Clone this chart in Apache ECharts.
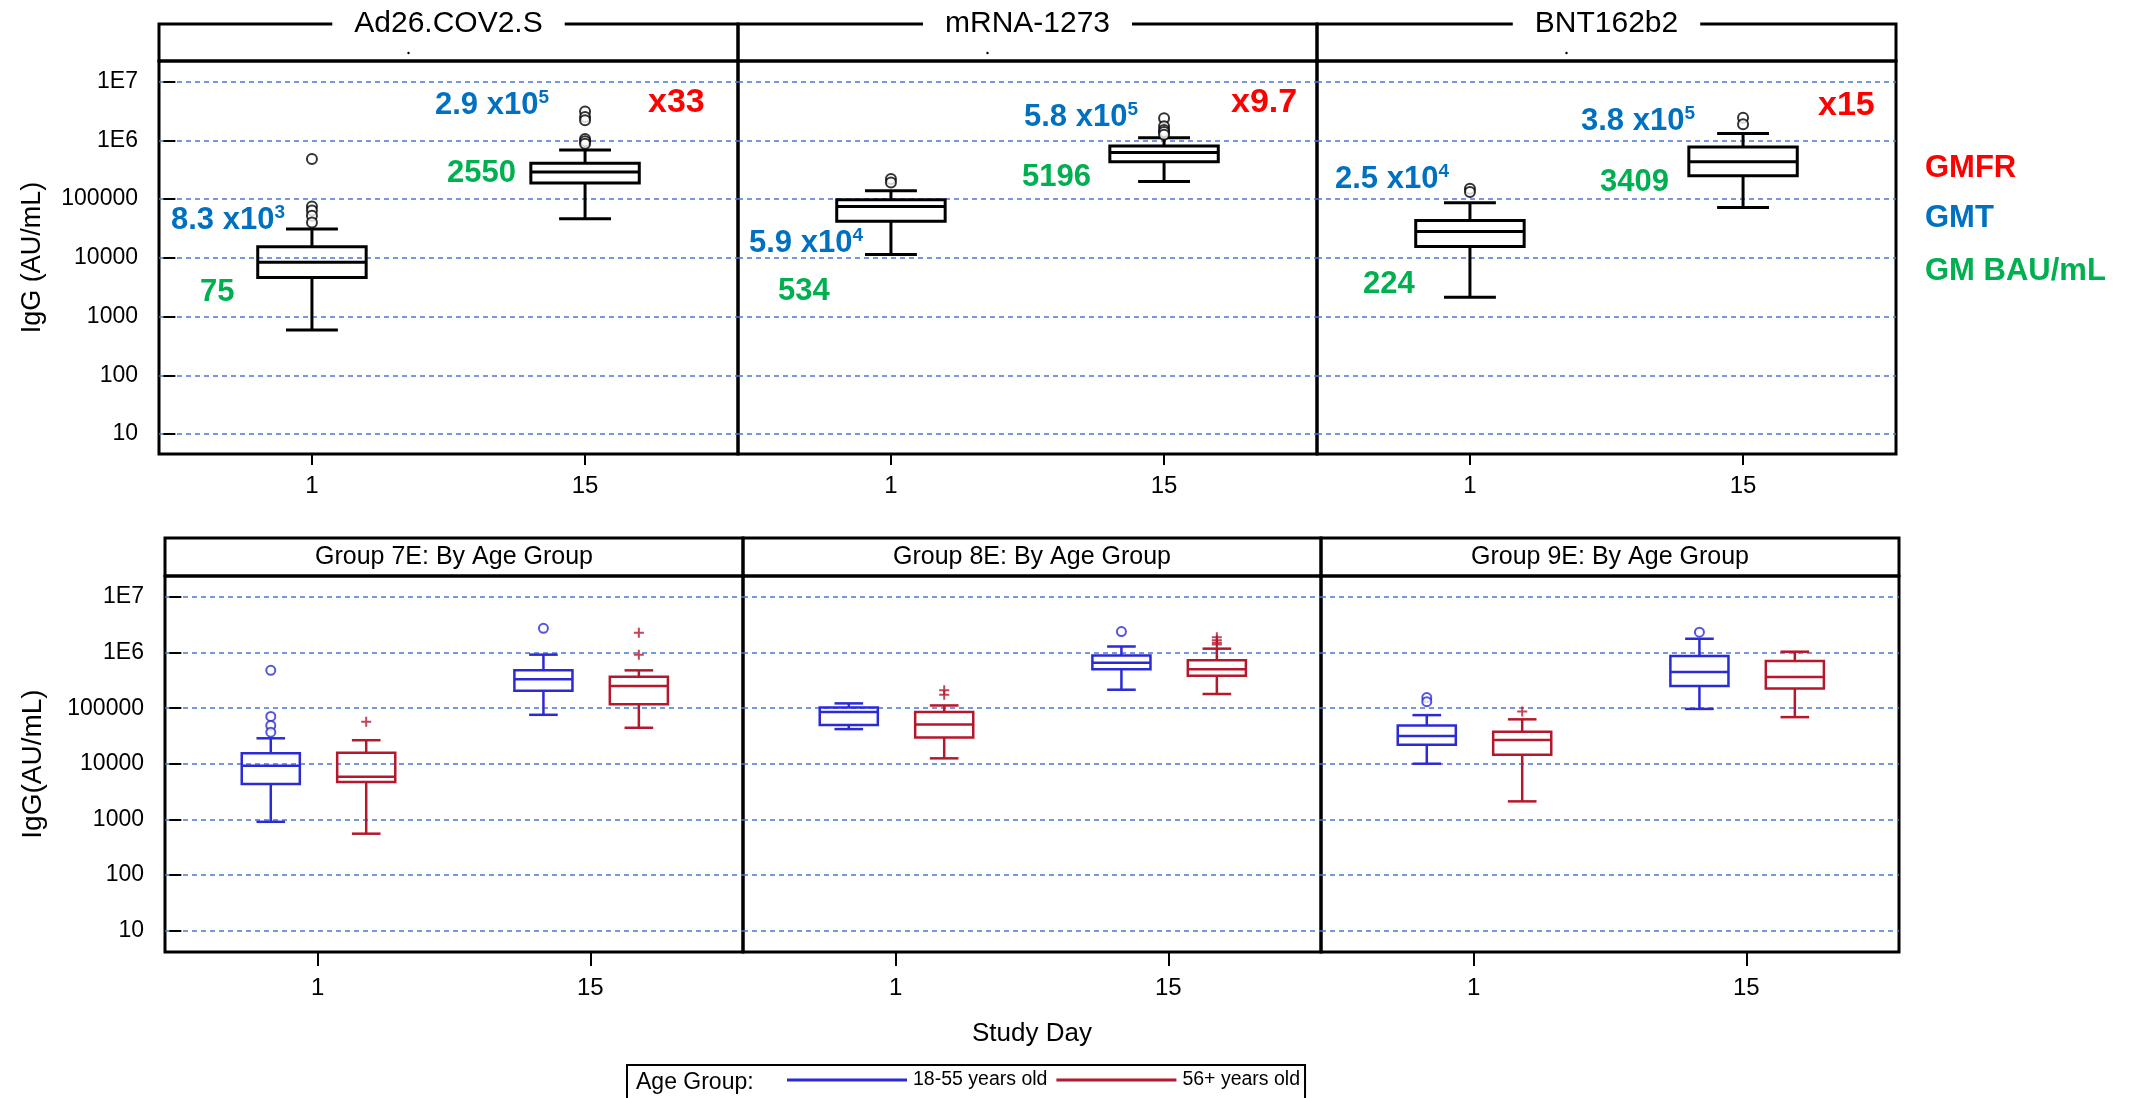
<!DOCTYPE html>
<html><head><meta charset="utf-8">
<script src="https://cdn.jsdelivr.net/npm/echarts@6/dist/echarts.min.js"></script>
<style>html,body{margin:0;padding:0;background:#fff}#c{width:2141px;height:1098px}</style>
</head><body><div id="c"></div>
<script>
// ---------------- data ----------------
const dayLabels = ['1', '15'];
const yTickValues = [10, 100, 1000, 10000, 100000, 1e6, 1e7];
const yTickLabels = ['10', '100', '1000', '10000', '100000', '1E6', '1E7'];
const vaccineNames = ['Ad26.COV2.S', 'mRNA-1273', 'BNT162b2'];
const groupTitles = ['Group 7E: By Age Group', 'Group 8E: By Age Group', 'Group 9E: By Age Group'];
const ageGroups = ['18-55 years old', '56+ years old'];

// box stats per study day: [lower whisker, Q1, median, Q3, upper whisker]
const ad26Boxes = [[590, 4600, 8400, 15400, 30800], [46000, 187000, 288000, 406000, 684000]];
const ad26Outliers = [[480000, 75000, 64000, 52000, 40000], [3080000, 2500000, 2200000, 1050000, 960000, 870000]];
const mrnaBoxes = [[11400, 41700, 75000, 97000, 139000], [198000, 432000, 617000, 800000, 1100000]];
const mrnaOutliers = [[219000, 192000], [2370000, 1730000, 1500000, 1390000, 1240000]];
const bntBoxes = [[2140, 15600, 28100, 43300, 86600], [72000, 250000, 432000, 770000, 1300000]];
const bntOutliers = [[150000, 132000], [2430000, 1870000]];

// by age group: [18-55, 56+], each per study day
const g7Young = [[900, 4300, 9200, 15500, 28700], [76000, 205000, 332000, 480000, 920000]];
const g7YoungOut = [[480000, 71000, 49000, 37000], [2740000]];
const g7Old = [[550, 4700, 5800, 15700, 26500], [44400, 118000, 251000, 367000, 480000]];
const g7OldOut = [[57000], [2290000, 920000]];
const g8Young = [[42000, 49800, 85000, 103000, 122000], [215000, 500000, 660000, 890000, 1290000]];
const g8YoungOut = [[], [2400000]];
const g8Old = [[12500, 29800, 51000, 85000, 112000], [180000, 383000, 500000, 733000, 1180000]];
const g8OldOut = [[210000, 175000], [1900000, 1670000, 1500000, 1400000]];
const g9Young = [[10000, 22000, 31400, 49000, 75000], [97000, 250000, 450000, 870000, 1780000]];
const g9YoungOut = [[155000, 131000], [2340000]];
const g9Old = [[2100, 14500, 26800, 37800, 63000], [69000, 226000, 363000, 710000, 1040000]];
const g9OldOut = [[87000], []];

// annotation texts
const gmtMantissa = [['8.3', '2.9'], ['5.9', '5.8'], ['2.5', '3.8']];
const gmtExponent = [['3', '5'], ['4', '5'], ['4', '5']];
const gmBau = [['75', '2550'], ['534', '5196'], ['224', '3409']];
const gmfr = ['x33', 'x9.7', 'x15'];
const keyLabels = ['GMFR', 'GMT', 'GM BAU/mL'];

// ---------------- layout ----------------
const FF = "'Liberation Sans', Arial, sans-serif";
const BLUE = '#2b2bd6', RED = '#b5172c', GRIDC = '#4a78d4';
const C_BLUE = '#0070c0', C_GREEN = '#00b050', C_RED = '#ff0000';
const topLefts = [159, 738, 1317], topW = 579, topTop = 61, topH = 393;
const botLefts = [165, 743, 1321], botW = 578, botTop = 576, botH = 376;
const topBoxes = [ad26Boxes, mrnaBoxes, bntBoxes];
const topOut = [ad26Outliers, mrnaOutliers, bntOutliers];
const botBoxes = [[g7Young, g7Old], [g8Young, g8Old], [g9Young, g9Old]];
const botOut = [[g7YoungOut, g7OldOut], [g8YoungOut, g8OldOut], [g9YoungOut, g9OldOut]];
const ageOffset = [-0.172, 0.178];
const ageColor = [BLUE, RED];

const grids = [], xAxes = [], yAxes = [], series = [];
function addPanel(idx, left, top, w, h, yMin, yMax, showY, tickLen, labMargin) {
  grids.push({left: left, top: top, width: w, height: h, show: true, borderColor: '#000', borderWidth: 3, backgroundColor: 'transparent'});
  xAxes.push({
    type: 'value', gridIndex: idx, min: -0.06, max: 2.06,
    axisLine: {show: false}, splitLine: {show: false},
    axisTick: {show: true, customValues: [0.5, 1.5], length: tickLen, lineStyle: {color: '#000', width: 2}},
    axisLabel: {customValues: [0.5, 1.5], formatter: v => dayLabels[Math.round(v - 0.5)], fontSize: 24, fontFamily: FF, color: '#000', margin: labMargin}
  });
  yAxes.push({
    type: 'log', logBase: 10, gridIndex: idx, min: yMin, max: yMax,
    axisLine: {show: false},
    axisTick: {show: showY, customValues: yTickValues, length: 12, lineStyle: {color: '#000', width: 2}},
    axisLabel: {show: showY, customValues: yTickValues,
      formatter: v => yTickLabels[Math.round(Math.log10(v)) - 1], fontSize: 23, fontFamily: FF, color: '#000', margin: 21},
    splitLine: {show: true, lineStyle: {color: GRIDC, width: 1.5, type: [5, 4]}}
  });
}
for (let p = 0; p < 3; p++) addPanel(p, topLefts[p], topTop, topW, topH, Math.pow(10, 0.66), Math.pow(10, 7.35), p === 0, 11, 20);
for (let p = 0; p < 3; p++) addPanel(3 + p, botLefts[p], botTop, botW, botH, Math.pow(10, 0.61), Math.pow(10, 7.38), p === 0, 14, 24);

function boxRender(boxW, capW, color, lw) {
  return function (params, api) {
    const x = api.value(0);
    const lo = api.coord([x, api.value(1)]), q1 = api.coord([x, api.value(2)]), md = api.coord([x, api.value(3)]),
          q3 = api.coord([x, api.value(4)]), hi = api.coord([x, api.value(5)]);
    const xl = api.coord([x - boxW / 2, api.value(2)])[0], xr = api.coord([x + boxW / 2, api.value(2)])[0];
    const cl = api.coord([x - capW / 2, api.value(2)])[0], cr = api.coord([x + capW / 2, api.value(2)])[0];
    const st = {stroke: color, lineWidth: lw, fill: null};
    return {type: 'group', children: [
      {type: 'line', shape: {x1: lo[0], y1: lo[1], x2: q1[0], y2: q1[1]}, style: st},
      {type: 'line', shape: {x1: q3[0], y1: q3[1], x2: hi[0], y2: hi[1]}, style: st},
      {type: 'line', shape: {x1: cl, y1: lo[1], x2: cr, y2: lo[1]}, style: st},
      {type: 'line', shape: {x1: cl, y1: hi[1], x2: cr, y2: hi[1]}, style: st},
      {type: 'rect', shape: {x: xl, y: q3[1], width: xr - xl, height: q1[1] - q3[1]}, style: st},
      {type: 'line', shape: {x1: xl, y1: md[1], x2: xr, y2: md[1]}, style: st}
    ]};
  };
}
const PLUS = 'path://M4,0H6V4H10V6H6V10H4V6H0V4H4Z';

for (let p = 0; p < 3; p++) {
  series.push({
    type: 'custom', name: vaccineNames[p], xAxisIndex: p, yAxisIndex: p,
    encode: {x: 0, y: [1, 2, 3, 4, 5]}, itemStyle: {color: '#000'},
    data: topBoxes[p].map((b, d) => [0.5 + d].concat(b)),
    renderItem: boxRender(0.397, 0.19, '#000', 3), z: 3
  });
  const pts = [];
  topOut[p].forEach((arr, d) => arr.forEach(v => pts.push([0.5 + d, v])));
  series.push({type: 'scatter', xAxisIndex: p, yAxisIndex: p, symbol: 'emptyCircle', symbolSize: 10,
    itemStyle: {color: '#000', borderWidth: 2}, data: pts, z: 4});
}
for (let p = 0; p < 3; p++) {
  for (let a = 0; a < 2; a++) {
    series.push({
      type: 'custom', name: ageGroups[a], xAxisIndex: 3 + p, yAxisIndex: 3 + p,
      encode: {x: 0, y: [1, 2, 3, 4, 5]}, itemStyle: {color: ageColor[a]},
      data: botBoxes[p][a].map((b, d) => [0.5 + d + ageOffset[a]].concat(b)),
      renderItem: boxRender(0.213, 0.105, ageColor[a], 2.5), z: 3
    });
    const pts = [];
    botOut[p][a].forEach((arr, d) => arr.forEach(v => pts.push([0.5 + d + ageOffset[a], v])));
    series.push({type: 'scatter', xAxisIndex: 3 + p, yAxisIndex: 3 + p,
      symbol: a === 0 ? 'emptyCircle' : PLUS, symbolSize: a === 0 ? 9 : 10,
      itemStyle: a === 0 ? {color: BLUE, borderWidth: 2} : {color: RED, borderWidth: 0}, data: pts, z: 4});
  }
}

// ---------------- graphics (frames, titles, annotations) ----------------
const graphics = [];
function txt(x, y, text, size, color, opts) {
  opts = opts || {};
  return {
    type: 'text', x: x, y: y, z: opts.z || 20, rotation: opts.rotation || 0,
    style: Object.assign({text: text, fill: color, fontSize: size, fontFamily: FF, fontWeight: opts.bold ? 'bold' : 'normal',
      align: opts.align || 'left', verticalAlign: 'middle', textAlign: opts.align || 'left', textVerticalAlign: 'middle'}, opts.style || {})
  };
}
for (let p = 0; p < 3; p++) {
  const cx = topLefts[p] + topW / 2;
  graphics.push({type: 'rect', z: 5, shape: {x: topLefts[p], y: 24, width: topW, height: topTop - 24}, style: {fill: 'transparent', stroke: '#000', lineWidth: 3}});
  graphics.push(txt(cx, 24, vaccineNames[p], 30, '#000', {align: 'center', style: {backgroundColor: '#fff', padding: [2, 22]}}));
  graphics.push({type: 'circle', z: 6, shape: {cx: cx - 40, cy: 53, r: 1.2}, style: {fill: '#000'}});
  const bx = botLefts[p] + botW / 2;
  graphics.push({type: 'rect', z: 5, shape: {x: botLefts[p], y: 538, width: botW, height: botTop - 538}, style: {fill: 'transparent', stroke: '#000', lineWidth: 3}});
  graphics.push(txt(bx, 557, groupTitles[p], 25, '#000', {align: 'center'}));
}
graphics.push(txt(33, topTop + topH / 2, 'IgG (AU/mL)', 27, '#000', {align: 'center', rotation: Math.PI / 2}));
graphics.push(txt(33, botTop + botH / 2, 'IgG(AU/mL)', 28, '#000', {align: 'center', rotation: Math.PI / 2}));
graphics.push(txt(botLefts[1] + botW / 2, 1034, 'Study Day', 26, '#000', {align: 'center'}));
graphics.push(txt(636, 1083, 'Age Group:', 23, '#000', {}));

const gmtPos = [[[171, 220], [435, 105]], [[749, 243], [1024, 117]], [[1335, 179], [1581, 121]]];
const bauPos = [[[200, 292], [447, 173]], [[778, 291], [1022, 177]], [[1363, 284], [1600, 182]]];
const gmfrPos = [[648, 103], [1231, 103], [1818, 106]];
for (let p = 0; p < 3; p++) {
  for (let d = 0; d < 2; d++) {
    graphics.push({type: 'text', x: gmtPos[p][d][0], y: gmtPos[p][d][1], z: 20, style: {
      text: '{m|' + gmtMantissa[p][d] + ' x10}{s|' + gmtExponent[p][d] + '}',
      align: 'left', verticalAlign: 'middle', textAlign: 'left', textVerticalAlign: 'middle',
      rich: {
        m: {fontSize: 31, fontWeight: 'bold', fontFamily: FF, fill: C_BLUE, color: C_BLUE, lineHeight: 34},
        s: {fontSize: 19, fontWeight: 'bold', fontFamily: FF, fill: C_BLUE, color: C_BLUE, verticalAlign: 'top', lineHeight: 20}
      }}});
    graphics.push(txt(bauPos[p][d][0], bauPos[p][d][1], gmBau[p][d], 31, C_GREEN, {bold: true}));
  }
  graphics.push(txt(gmfrPos[p][0], gmfrPos[p][1], gmfr[p], 34, C_RED, {bold: true}));
}
graphics.push(txt(1925, 168, keyLabels[0], 31, C_RED, {bold: true}));
graphics.push(txt(1925, 218, keyLabels[1], 31, C_BLUE, {bold: true}));
graphics.push(txt(1925, 271, keyLabels[2], 31, C_GREEN, {bold: true}));

const chart = echarts.init(document.getElementById('c'), null, {renderer: 'canvas'});
chart.setOption({
  animation: false,
  backgroundColor: '#fff',
  grid: grids, xAxis: xAxes, yAxis: yAxes, series: series,
  legend: {
    data: ageGroups, left: 627, top: 1065, orient: 'horizontal', icon: 'rect',
    itemWidth: 120, itemHeight: 3, itemGap: 9, padding: [5, 5, 60, 160],
    borderColor: '#000', borderWidth: 2, selectedMode: false,
    textStyle: {fontSize: 19.5, fontFamily: FF, color: '#000', padding: [0, 0, 0, 1]}
  },
  graphic: graphics
});
</script></body></html>
